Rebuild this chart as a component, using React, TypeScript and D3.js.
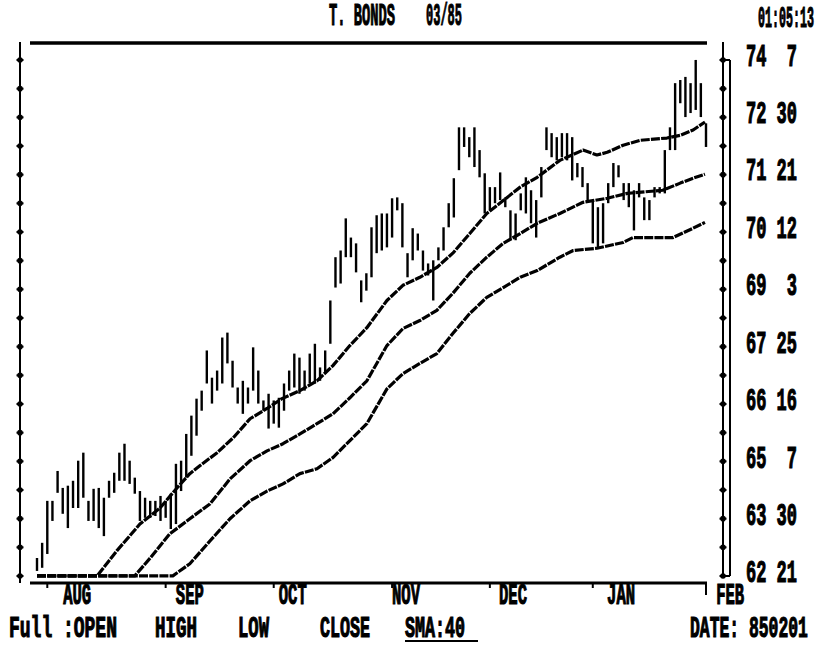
import React from 'react';
import * as d3 from 'd3';

// ---- data (T-Bond futures 03/85, daily bars) ----
const highs = [
  63.06, 63.40, 64.34, 64.34, 65.01, 64.63, 64.68, 64.79, 65.24, 65.42,
  64.34, 64.61, 64.63, 64.41, 64.79, 64.97, 65.42, 65.62, 65.24, 64.86,
  64.56, 64.41, 64.34, 64.34, 64.45, 64.34, 64.50, 65.17, 65.24, 65.84,
  66.25, 66.63, 66.81, 67.71, 67.10, 67.26, 68.00, 68.11, 67.48, 66.88,
  67.03, 66.88, 67.78, 67.26, 66.59, 66.74, 66.59, 66.65, 66.97, 67.26,
  67.64, 67.55, 67.26, 67.64, 67.86, 67.33, 67.71, 68.83, 69.80, 69.95,
  70.67, 70.24, 70.11, 69.28, 69.44, 70.47, 70.74, 70.78, 70.78, 71.12,
  71.14, 71.01, 69.89, 70.45, 70.33, 69.95, 69.66, 69.73, 70.02, 70.47,
  71.01, 71.57, 72.71, 72.71, 72.49, 72.71, 72.20, 71.68, 71.37, 71.37,
  71.70, 71.14, 70.85, 70.78, 71.23, 71.59, 71.30, 71.08, 71.82, 72.71,
  72.58, 72.49, 72.58, 72.58, 72.49, 71.91, 71.82, 71.46, 71.08, 70.92,
  71.01, 71.46, 71.91, 71.86, 71.46, 71.46, 71.30, 71.46, 71.14, 71.08,
  71.37, 71.37, 72.20, 72.71, 73.70, 73.77, 73.84, 73.70, 74.22, 73.70,
  72.80,
];
const lows = [
  62.77, 62.84, 63.15, 63.89, 64.52, 64.05, 63.73, 64.18, 64.18, 64.41,
  63.89, 63.89, 63.73, 63.55, 64.41, 64.52, 64.79, 64.79, 64.72, 64.50,
  63.89, 63.96, 63.96, 64.00, 63.89, 63.96, 63.71, 63.82, 64.56, 64.86,
  65.35, 65.80, 66.36, 66.97, 66.52, 66.81, 66.97, 67.42, 66.88, 66.52,
  66.29, 66.52, 66.81, 66.52, 66.36, 65.96, 66.07, 65.98, 66.36, 66.81,
  66.88, 66.74, 66.81, 66.97, 66.97, 67.03, 67.19, 67.86, 69.12, 69.21,
  69.80, 69.80, 69.46, 68.79, 69.05, 69.35, 69.89, 69.95, 70.02, 70.24,
  70.85, 70.02, 69.35, 69.73, 69.95, 69.50, 69.39, 68.83, 69.73, 69.95,
  70.47, 70.69, 71.75, 72.27, 72.04, 71.82, 71.59, 70.78, 70.85, 71.01,
  71.08, 70.92, 70.18, 70.18, 70.85, 70.78, 70.56, 70.24, 71.14, 72.20,
  72.04, 71.97, 72.04, 71.97, 71.52, 71.59, 71.37, 71.08, 70.11, 70.02,
  70.11, 71.01, 71.37, 71.59, 71.08, 70.92, 70.40, 71.14, 70.63, 70.63,
  71.14, 71.23, 71.23, 72.20, 72.20, 73.25, 72.94, 73.03, 73.10, 72.94,
  72.27,
];

// moving-average lines (sampled day index / value)
const upperDays = [0, 11.7, 15.5, 20, 23.9, 27.2, 29.7, 31.7, 35, 38.1, 41.4, 44.7, 47.6, 51.1, 54.4, 57.5, 60.8, 64.1, 68, 71.1, 74.4, 77.7, 80.8, 84.1, 87.4, 90.6, 93.9, 97.2, 101.6, 106.1, 108.8, 110.8, 113.9, 117.2, 122.4, 125, 127.5, 129.8];
const upperVals = [62.66, 62.66, 63.22, 63.82, 64.18, 64.63, 64.95, 65.13, 65.42, 65.75, 66.18, 66.41, 66.63, 66.81, 67.03, 67.37, 67.82, 68.22, 68.83, 69.17, 69.35, 69.57, 69.89, 70.33, 70.78, 71.07, 71.37, 71.59, 71.97, 72.20, 72.09, 72.15, 72.31, 72.42, 72.47, 72.53, 72.65, 72.83];
const middleDays = [0, 19, 22, 25.8, 29.7, 33.6, 37.5, 41.4, 44.7, 47.8, 51.1, 54.4, 57.5, 60.8, 64.1, 68, 71.1, 74.4, 77.7, 80.8, 84.1, 87.4, 90.6, 93.9, 97.2, 101.6, 106.1, 110.8, 114.7, 121.6, 125, 127.5, 129.8];
const middleVals = [62.66, 62.66, 63.06, 63.60, 63.94, 64.27, 64.83, 65.24, 65.46, 65.62, 65.84, 66.07, 66.29, 66.65, 67.03, 67.82, 68.20, 68.38, 68.61, 68.99, 69.44, 69.80, 70.11, 70.33, 70.56, 70.78, 71.03, 71.12, 71.23, 71.30, 71.46, 71.57, 71.66];
const lowerDays = [0, 26.4, 29.7, 33.6, 37.5, 41.4, 44.7, 47.8, 51.1, 54.4, 57.5, 60.8, 64.1, 68, 71.1, 74.4, 77.7, 80.8, 84.1, 87.4, 90.6, 93.9, 97.2, 101.6, 104.2, 108.8, 113.9, 115.8, 123.6, 127.5, 129.8];
const lowerVals = [62.66, 62.66, 62.93, 63.44, 63.94, 64.34, 64.56, 64.72, 64.95, 65.06, 65.31, 65.69, 66.07, 66.85, 67.19, 67.42, 67.64, 68.09, 68.54, 68.90, 69.12, 69.35, 69.50, 69.80, 69.95, 70.00, 70.13, 70.24, 70.24, 70.45, 70.58];

const monthNames = ['AUG', 'SEP', 'OCT', 'NOV', 'DEC', 'JAN', 'FEB'];
const monthTickDays = [2, 25, 46, 69, 88, 108, 130];
const monthLabelDays = [7.8, 29.7, 49.7, 71.7, 92.5, 113.5, 134.7];

const priceLabels = ['62 21', '63 30', '65  7', '66 16', '67 25', '69  3', '70 12', '71 21', '72 30', '74  7'];

const FONT = "'Liberation Mono', 'DejaVu Sans Mono', monospace";

// text drawn in a monospace font, stretched to a tall, narrow, heavy face
function T({ x, y, w, children, size = 17, sy = 1.85 }: any) {
  const s = String(children);
  const sx = w / (s.length * 0.6 * size);
  return (
    <text
      transform={`translate(${x},${y}) scale(${sx.toFixed(3)},${sy})`}
      fontFamily={FONT}
      fontWeight="bold"
      fontSize={size}
      fill="#000"
      stroke="#000"
      strokeWidth={0.65}
      style={{ whiteSpace: 'pre' }}
    >
      {s}
    </text>
  );
}

export default function App() {
  const W = 823;
  const H = 646;
  const x = d3.scaleLinear().domain([0, 130]).range([37, 706]);
  const yMin = 62 + 21 / 32;
  const yMax = 74 + 7 / 32;
  const y = d3.scaleLinear().domain([yMin, yMax]).range([576, 60]);

  const tickVals = priceLabels.map((s) => {
    const [a, b] = s.trim().split(/\s+/);
    return +a + +b / 32;
  });
  const minorTicks = d3.range(19).map((k) => yMin + (k * (yMax - yMin)) / 18);

  const line = d3
    .line<[number, number]>()
    .x((d) => x(d[0]))
    .y((d) => y(d[1]));

  const series = [
    upperDays.map((d, i) => [d, upperVals[i]] as [number, number]),
    middleDays.map((d, i) => [d, middleVals[i]] as [number, number]),
    lowerDays.map((d, i) => [d, lowerVals[i]] as [number, number]),
  ];

  const axisBottomY = 583;
  const leftAxisX = 20;
  const rightAxisX = 723;

  return (
    <svg
      width={W}
      height={H}
      viewBox={`0 0 ${W} ${H}`}
      style={{ position: 'absolute', left: 0, top: 0, background: '#fff' }}
    >
      <rect x={0} y={0} width={W} height={H} fill="#fff" />

      {/* title */}
      <T x={329} y={25} w={66}>T. BONDS</T>
      <T x={426} y={25} w={36}>03/85</T>
      <T x={758} y={27} w={56} size={16} sy={1.8}>01:05:13</T>

      {/* top frame line */}
      <line x1={30} x2={707} y1={43} y2={43} stroke="#000" strokeWidth={3.5} />

      {/* left axis */}
      <line x1={leftAxisX} x2={leftAxisX} y1={42} y2={axisBottomY} stroke="#000" strokeWidth={2} />
      {minorTicks.map((v, i) => (
        <g key={'lt' + i}>
          <circle cx={leftAxisX} cy={y(v)} r={2.8} fill="#000" />
          <line x1={leftAxisX - 3.5} x2={leftAxisX + 3.5} y1={y(v)} y2={y(v)} stroke="#000" strokeWidth={2} />
        </g>
      ))}

      {/* right axis (double line) */}
      <line x1={rightAxisX} x2={rightAxisX} y1={42} y2={y(yMin) + 1} stroke="#000" strokeWidth={2} />
      <line x1={rightAxisX + 7} x2={rightAxisX + 7} y1={y(yMax)} y2={y(yMin)} stroke="#000" strokeWidth={2} />
      <line x1={rightAxisX} x2={rightAxisX + 7} y1={y(yMax)} y2={y(yMax)} stroke="#000" strokeWidth={2} />
      <line x1={rightAxisX} x2={rightAxisX + 7} y1={y(yMin)} y2={y(yMin)} stroke="#000" strokeWidth={2} />
      {minorTicks.map((v, i) => (
        <g key={'rt' + i}>
          <circle cx={rightAxisX} cy={y(v)} r={2.8} fill="#000" />
          <line x1={rightAxisX - 3.5} x2={rightAxisX + 3.5} y1={y(v)} y2={y(v)} stroke="#000" strokeWidth={2} />
        </g>
      ))}
      {tickVals.map((v, i) => (
        <T key={'pl' + i} x={746} y={y(v) + 6} w={51}>
          {priceLabels[i]}
        </T>
      ))}

      {/* bottom axis */}
      <line x1={30} x2={707} y1={axisBottomY} y2={axisBottomY} stroke="#000" strokeWidth={3} />
      {monthTickDays.map((d, i) => (
        <line
          key={'mt' + i}
          x1={x(d)}
          x2={x(d)}
          y1={axisBottomY}
          y2={axisBottomY + (i === monthTickDays.length - 1 ? 12 : 5)}
          stroke="#000"
          strokeWidth={2}
        />
      ))}
      {monthLabelDays.map((d, i) => (
        <T key={'ml' + i} x={x(d) - 14} y={604} w={28} size={16} sy={1.8}>
          {monthNames[i]}
        </T>
      ))}

      {/* moving average lines */}
      {series.map((s, i) => (
        <path
          key={'sma' + i}
          d={line(s) || ''}
          fill="none"
          stroke="#000"
          strokeWidth={3.2}
          strokeDasharray="9 1.2"
          strokeLinejoin="round"
        />
      ))}

      {/* daily bars */}
      {highs.map((h, i) => (
        <line
          key={'b' + i}
          x1={x(i)}
          x2={x(i)}
          y1={y(h)}
          y2={Math.max(y(lows[i]), y(h) + 3)}
          stroke="#000"
          strokeWidth={2.4}
        />
      ))}

      {/* bottom legend */}
      <T x={9} y={637} w={108} size={16} sy={1.8}>Full :OPEN</T>
      <T x={155} y={637} w={42} size={16} sy={1.8}>HIGH</T>
      <T x={238} y={637} w={31} size={16} sy={1.8}>LOW</T>
      <T x={320} y={637} w={50} size={16} sy={1.8}>CLOSE</T>
      <T x={405} y={637} w={60} size={16} sy={1.8}>SMA:40</T>
      <line x1={405} x2={478} y1={641} y2={641} stroke="#000" strokeWidth={2} />
      <T x={690} y={637} w={118} size={16} sy={1.8}>DATE: 850201</T>
    </svg>
  );
}
